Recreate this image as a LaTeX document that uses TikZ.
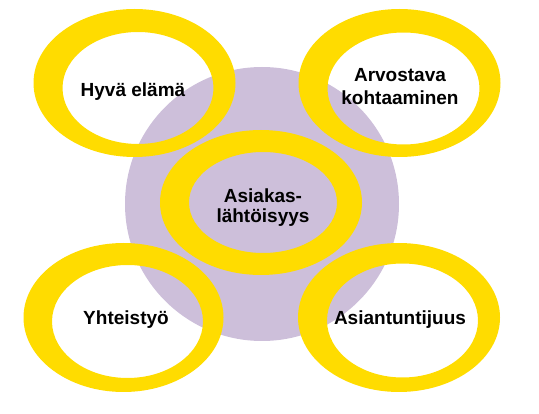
\documentclass[tikz,border=0pt]{standalone}
\usepackage{fontspec}
\setmainfont{Liberation Sans}
\definecolor{ringyellow}{RGB}{255,220,0}
\definecolor{lilac}{RGB}{205,191,218}
\begin{document}
\begin{tikzpicture}[
        x=1pt, y=-1pt,
        ring/.style={fill=ringyellow, even odd rule},
        label/.style={align=center, inner sep=0pt, font=\bfseries\fontsize{19}{23}\selectfont}
    ]
    \useasboundingbox (0,0) rectangle (539,414);
    % background disc
    \fill[lilac] (262,204) circle (137pt);

    % rings
    \fill[ring] (134.5,83) ellipse [x radius=101pt, y radius=74pt]
        (138,88) ellipse [x radius=75.5pt, y radius=56pt];
    \fill[ring] (399.5,83) ellipse [x radius=101pt, y radius=74pt]
        (403.5,88.5) ellipse [x radius=76pt, y radius=56pt];
    \fill[ring] (123.5,317.5) ellipse [x radius=100pt, y radius=74.5pt]
        (127.5,321.5) ellipse [x radius=75.5pt, y radius=56.5pt];
    \fill[ring] (399,317.5) ellipse [x radius=101pt, y radius=74.5pt]
        (402.5,320.5) ellipse [x radius=75.5pt, y radius=57pt];
    \fill[ring] (261,202.5) ellipse [x radius=101pt, y radius=72.5pt]
        (263,202.5) ellipse [x radius=74pt, y radius=50.5pt];

    % labels
    \node[label, anchor=base] (hyva) at (133,97) {Hyvä elämä};
    \node[label] (arvostava) at (400,87) {Arvostava\\kohtaaminen};
    \node[label, anchor=base] (yhteistyo) at (126,325) {Yhteistyö};
    \node[label, anchor=base] (asiantuntijuus) at (400,325) {Asiantuntijuus};
    \node[label, font=\bfseries\fontsize{19}{20}\selectfont] (asiakas) at (263,208) {Asiakas-\\lähtöisyys};
\end{tikzpicture}
\end{document}
